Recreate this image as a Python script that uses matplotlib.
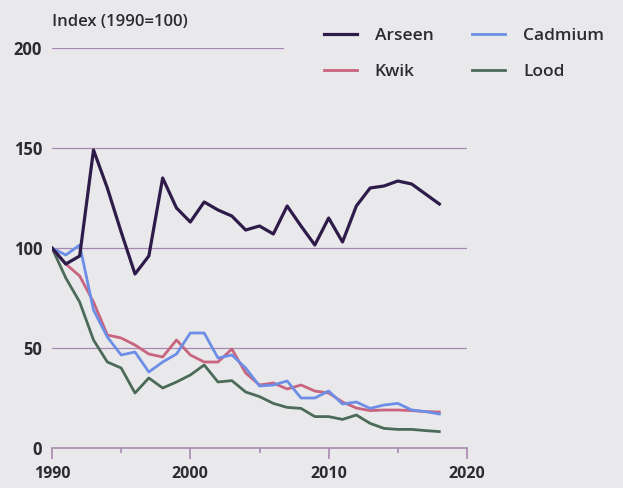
import matplotlib
matplotlib.use("Agg")
import matplotlib.pyplot as plt
from matplotlib.ticker import MultipleLocator

years = list(range(1990, 2019))
arseen = [100, 92, 96, 149, 130, 108, 87, 96, 135, 120, 113, 123, 119, 116, 109, 111, 107, 121, 111, 101.5,
          115, 103, 121, 130, 131, 133.5, 132, 127, 122]
kwik = [100, 92, 86, 73, 56.5, 55, 51.5, 47, 45.5, 54, 46.5, 43, 43, 49.5, 37.5, 31.5, 32.5, 29.5, 31.5, 28.5,
        27.5, 23, 20, 18.7, 19, 19, 18.7, 18.2, 18]
cadmium = [100, 96.5, 101.5, 69, 55.5, 46.5, 48, 38, 43, 47, 57.5, 57.5, 45, 46.5, 40, 31, 31.5, 33.5, 25, 25,
           28.5, 22, 23, 19.8, 21.5, 22.3, 19, 18.2, 17]
lood = [100, 85, 73, 54, 43, 40, 27.5, 35, 30, 33, 36.5, 41.5, 33, 33.7, 28, 25.7, 22.3, 20.3, 19.8, 15.7,
        15.7, 14.3, 16.5, 12.3, 9.8, 9.3, 9.3, 8.7, 8.2]

yticks = [0, 50, 100, 150, 200]
xticks = [1990, 2000, 2010, 2020]

bg = "#e9e9eb"
grid_c = "#a888b0"
txt_c = "#2d2a32"

plt.rcParams['font.family'] = ['Open Sans', 'DejaVu Sans']

fig = plt.figure(figsize=(6.23, 4.88), dpi=100, facecolor=bg)
ax = fig.add_axes([52/623, 40/488, 415/623, 400/488])
ax.set_facecolor(bg)
ax.set_xlim(1990, 2020)
ax.set_ylim(0, 200)

# gridlines
for v in yticks[1:]:
    xmax = (283 - 52) / 415 if v == 200 else 1.0
    ax.axhline(v, xmin=0, xmax=xmax, color=grid_c, lw=0.9, zorder=1)

l1, = ax.plot(years, arseen, color="#2e1b4a", lw=2.3, label="Arseen", zorder=5)
l2, = ax.plot(years, kwik, color="#c8647e", lw=2.0, label="Kwik", zorder=3)
l3, = ax.plot(years, cadmium, color="#6d8ee6", lw=2.0, label="Cadmium", zorder=4)
l4, = ax.plot(years, lood, color="#4b6b58", lw=2.0, label="Lood", zorder=2)

for s in ["top", "right", "left"]:
    ax.spines[s].set_visible(False)
ax.spines["bottom"].set_color(grid_c)
ax.spines["bottom"].set_linewidth(1.2)
ax.spines["bottom"].set_zorder(1)

ax.set_xticks(xticks)
ax.xaxis.set_minor_locator(MultipleLocator(5))
ax.tick_params(axis="x", which="major", direction="out", length=8, width=1.2, color=grid_c,
               labelsize=11.5, labelcolor=txt_c, pad=5)
ax.tick_params(axis="x", which="minor", direction="out", length=3.5, width=1.2, color=grid_c)
for lab in ax.get_xticklabels():
    lab.set_fontweight("bold")

ax.set_yticks(yticks)
ax.tick_params(axis="y", length=0, labelsize=12, labelcolor=txt_c, pad=7)
for lab in ax.get_yticklabels():
    lab.set_fontweight("bold")

fig.text(52/623, 1 - 22/488, "Index (1990=100)", fontsize=12, fontweight="semibold",
         color=txt_c, va="center", ha="left")

leg = fig.legend(handles=[l1, l2, l3, l4], ncol=2, loc="upper left",
                 bbox_to_anchor=(308/623, 1 - 12/488), frameon=False,
                 fontsize=12.5, handlelength=1.9, handletextpad=1.05,
                 columnspacing=2.2, labelspacing=1.15)
for t in leg.get_texts():
    t.set_color(txt_c)
    t.set_fontweight("semibold")

fig.savefig("out.png", dpi=100, facecolor=bg)
